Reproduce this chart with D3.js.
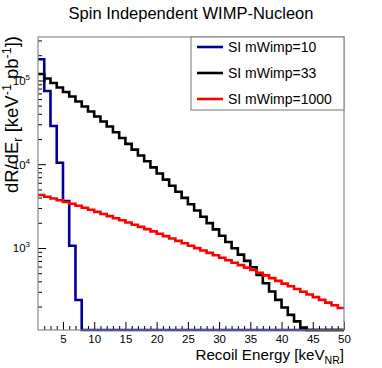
<!DOCTYPE html>
<html>
<head>
<meta charset="utf-8">
<script src="https://cdn.jsdelivr.net/npm/d3@7"></script>
<style>
  html, body { margin: 0; padding: 0; background: #fff; }
  svg { display: block; font-family: "Liberation Sans", Arial, Helvetica, sans-serif; }
</style>
</head>
<body>
<svg id="chart" width="382" height="368"></svg>
<script>
// ---- data (bin low edges in keV, bin width 1 keV) ----
const binLow = [1,2,3,4,5,6,7,8,9,10,11,12,13,14,15,16,17,18,19,20,21,22,23,24,25,
                26,27,28,29,30,31,32,33,34,35,36,37,38,39,40,41,42,43,44,45,46,47,48,49];
const seriesNames = ["SI mWimp=10", "SI mWimp=33", "SI mWimp=1000"];
const seriesColors = ["#000099", "#000000", "#ff0000"];
const mWimp10 = [179100, 74900, 28600, 10400, 3640, 1065, 239, 0, 0, 0, 0, 0, 0, 0, 0, 0, 0, 0, 0, 0,
                 0, 0, 0, 0, 0, 0, 0, 0, 0, 0, 0, 0, 0, 0, 0, 0, 0, 0, 0, 0, 0, 0, 0, 0, 0, 0, 0, 0, 0];
const mWimp33 = [119600, 105600, 93350, 82490, 72890, 64420, 56150, 48930, 42650, 37170,
                 32390, 28230, 24070, 20530, 17500, 14920, 12720, 10850, 9170, 7755,
                 6557, 5544, 4688, 3964, 3334, 2804, 2358, 1983, 1668, 1403,
                 1179, 992, 834, 701, 590, 476, 379, 302, 240, 195,
                 159, 133, 112, 0, 0, 0, 0, 0, 0];
const mWimp1000 = [4294, 4098, 3899, 3722, 3543, 3372, 3191, 3020, 2858, 2698,
                   2547, 2404, 2269, 2142, 2016, 1898, 1786, 1682, 1579, 1482,
                   1387, 1299, 1216, 1138, 1065, 997, 933, 874, 818, 764,
                   713, 668, 625, 583, 546, 507, 471, 437, 405, 376,
                   349, 324, 301, 279, 259, 240, 223, 207, 192];
const xTicks = [5,10,15,20,25,30,35,40,45,50];
const yMajorTicks = [1e3, 1e4, 1e5];
const yMinorTicks = [200,300,400,500,600,700,800,900,2000,3000,4000,5000,6000,7000,8000,9000,
                     20000,30000,40000,50000,60000,70000,80000,90000,200000,300000];
const xDomain = [1, 50];
const yDomain = [105, 330000];

// ---- layout ----
const L = 38, R = 344, T = 37, B = 330;
const svg = d3.select("#chart");
const font = '"Liberation Sans", Arial, Helvetica, sans-serif';

const x = d3.scaleLinear().domain(xDomain).range([L, R]);
const y = d3.scaleLog().domain(yDomain).range([B, T]).clamp(true);

// title
svg.append("text").attr("x", 191).attr("y", 19).attr("text-anchor", "middle")
  .attr("font-size", 16.5).attr("fill", "#000").text("Spin Independent WIMP-Nucleon");

// histograms
const line = d3.line().curve(d3.curveStepAfter).x(d => x(d[0])).y(d => y(d[1]));
const allSeries = [mWimp10, mWimp33, mWimp1000];
const plotG = svg.append("g");
allSeries.forEach((vals, i) => {
  const pts = binLow.map((b, j) => [b, vals[j]]);
  pts.push([xDomain[1], vals[vals.length - 1]]);
  plotG.append("path").attr("d", line(pts)).attr("fill", "none")
    .attr("stroke", seriesColors[i]).attr("stroke-width", 2.6)
    .attr("stroke-linejoin", "miter").attr("stroke-linecap", "butt");
});

// axes: x
const xMinor = binLow.filter(v => v > 1 && v % 5 !== 0);
const gxMinor = svg.append("g").attr("transform", `translate(0,${B})`)
  .call(d3.axisBottom(x).tickValues(xMinor).tickSize(-4).tickFormat(""));
const gx = svg.append("g").attr("transform", `translate(0,${B})`)
  .call(d3.axisBottom(x).tickValues(xTicks).tickSize(-8).tickPadding(5));
[gx, gxMinor].forEach(g => {
  g.select(".domain").remove();
  g.selectAll(".tick line").attr("stroke", "#000").attr("stroke-width", 1);
});
gx.selectAll("text").attr("font-size", 11.5).attr("font-family", font).attr("fill", "#000");

// axes: y
const gyMinor = svg.append("g").attr("transform", `translate(${L},0)`)
  .call(d3.axisLeft(y).tickValues(yMinorTicks).tickSize(-4).tickFormat(""));
const gy = svg.append("g").attr("transform", `translate(${L},0)`)
  .call(d3.axisLeft(y).tickValues(yMajorTicks).tickSize(-8).tickFormat(""));
[gy, gyMinor].forEach(g => {
  g.select(".domain").remove();
  g.selectAll(".tick line").attr("stroke", "#000").attr("stroke-width", 1);
});
yMajorTicks.forEach(v => {
  const t = svg.append("text").attr("x", 30).attr("y", y(v) + 4.5)
    .attr("text-anchor", "end").attr("font-size", 11.5).attr("fill", "#000");
  t.append("tspan").text("10");
  t.append("tspan").attr("dy", -5).attr("font-size", 8).text(Math.round(Math.log10(v)));
});

// frame
svg.append("rect").attr("x", L).attr("y", T).attr("width", R - L).attr("height", B - T)
  .attr("fill", "none").attr("stroke", "#8a8a8a").attr("stroke-width", 1.2);

// axis titles
const xt = svg.append("text").attr("x", R).attr("y", 360).attr("text-anchor", "end")
  .attr("font-size", 15.2).attr("fill", "#000");
xt.append("tspan").text("Recoil Energy [keV");
xt.append("tspan").attr("dy", 4).attr("font-size", 10.5).text("NR");
xt.append("tspan").attr("dy", -4).text("]");

const yt = svg.append("text").attr("transform", `translate(18,${T - 1}) rotate(-90)`)
  .attr("text-anchor", "end").attr("font-size", 18.5).attr("fill", "#000");
yt.append("tspan").text("dR/dE");
yt.append("tspan").attr("dy", 4).attr("font-size", 12.5).text("r");
yt.append("tspan").attr("dy", -4).text(" [keV");
yt.append("tspan").attr("dy", -7).attr("font-size", 12.5).text("-1");
yt.append("tspan").attr("dy", 7).text(" pb");
yt.append("tspan").attr("dy", -7).attr("font-size", 12.5).text("-1");
yt.append("tspan").attr("dy", 7).text("])");

// legend
const lg = svg.append("g");
lg.append("rect").attr("x", 191).attr("y", T).attr("width", R - 191).attr("height", 73)
  .attr("fill", "#fff").attr("stroke", "#8a8a8a").attr("stroke-width", 1.2);
seriesNames.forEach((name, i) => {
  const cy = 47 + i * 26;
  lg.append("line").attr("x1", 197).attr("x2", 223).attr("y1", cy).attr("y2", cy)
    .attr("stroke", seriesColors[i]).attr("stroke-width", 2.6);
  lg.append("text").attr("x", 228).attr("y", cy + 5).attr("font-size", 14)
    .attr("fill", "#000").text(name);
});
</script>
</body>
</html>
